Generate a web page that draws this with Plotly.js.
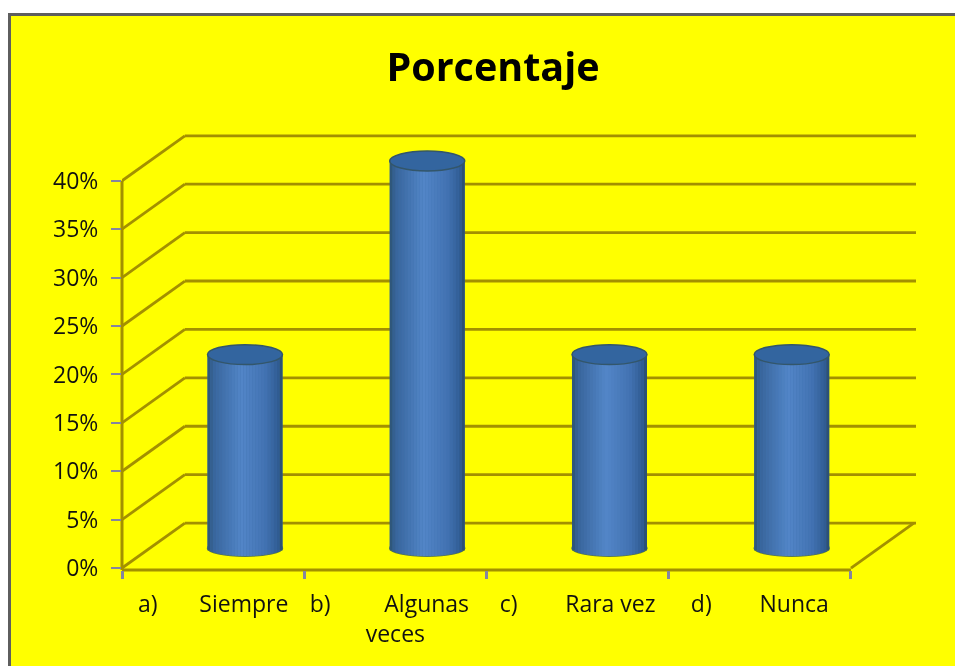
<!DOCTYPE html>
<html><head><meta charset="utf-8">
<script src="https://cdn.plot.ly/plotly-3.0.1.min.js"></script>
<style>
html,body{margin:0;padding:0;background:#fff;overflow:hidden;width:955px;height:666px}
#frame{position:absolute;left:8px;top:13px;width:947px;height:653px;box-sizing:border-box;background:#ffff00;border-left:3px solid #5e5e5e;border-top:3px solid #5e5e5e}
#chart{position:absolute;left:0;top:0;width:955px;height:666px;filter:blur(0.5px)}
</style></head><body>
<div id="frame"></div><div id="chart"></div>
<script>
const nb = '\u00A0';
const categories = ['a)'+nb.repeat(7)+'Siempre', 'b)'+nb.repeat(9)+'Algunas'+nb.repeat(2)+'<br>veces', 'c)'+nb.repeat(8)+'Rara vez', 'd)'+nb.repeat(8)+'Nunca'];
const values = [20, 40, 20, 20];
const yTicks = [0, 5, 10, 15, 20, 25, 30, 35, 40];
const titleText = 'Porcentaje';

// axis-space constants of the fake 3D box
const xMin = -0.5, xMax = 3.857, yMin = -0.2, yMax = 45.25;
const wallDx = 0.345, wallDy = 4.65;       // back wall shift
const depthDx = 0.175, depthDy = 2.05;     // cylinder position inside the box
const rx = 0.2058, ry = 1.03, ryBottom = 0.82; // cylinder cross-section
const gridColor = '#a39000';

const stops = [[-1,[44,82,112]],[-0.84,[56,100,155]],[-0.1,[82,134,200]],[0.55,[66,114,178]],[0.88,[48,92,146]],[1,[42,76,104]]];
function shade(t){
  for(let i=1;i<stops.length;i++){
    if(t<=stops[i][0]){
      const a=stops[i-1],b=stops[i],f=(t-a[0])/(b[0]-a[0]);
      return 'rgb('+a[1].map((c,j)=>Math.round(c+(b[1][j]-c)*f)).join(',')+')';
    }
  }
  return 'rgb(42,76,104)';
}

const traces = [{
  type:'bar', x:categories, y:values, base:values.map(()=>depthDy),
  width:values.map(()=>2*rx), offset:values.map(()=>depthDx-rx),
  marker:{color:'#3f72b0',line:{width:0}}, hoverinfo:'x+y', showlegend:false
}];
const nStrips = 25, step = 2*rx/nStrips;
for(let k=0;k<nStrips;k++){
  const t = -1+(k+0.5)*2/nStrips;
  const sag = ryBottom*Math.sqrt(1-t*t);
  traces.push({
    type:'bar', x:categories, y:values.map(v=>v+sag), base:values.map(()=>depthDy-sag),
    width:values.map(()=>step), offset:values.map(()=>depthDx-rx+k*step),
    marker:{color:shade(t),line:{width:0}}, hoverinfo:'skip', showlegend:false
  });
}

const shapes = [];
const ln = (x0,y0,x1,y1,w)=>({type:'line',xref:'x',yref:'y',x0,y0,x1,y1,layer:'below',line:{color:gridColor,width:w||2.8}});
yTicks.forEach(v=>{
  shapes.push(ln(xMin,v,xMin+wallDx,v+wallDy));
  shapes.push(ln(xMin+wallDx,v+wallDy,xMax,v+wallDy));
});
shapes.push(ln(3.5,0,3.5+wallDx,wallDy));
// floor edge and left edge use paper refs on the clipped side so their full width shows
shapes.push({type:'line',xref:'x',yref:'paper',x0:xMin,x1:3.5,y0:0,y1:0,layer:'below',line:{color:gridColor,width:3}});
shapes.push({type:'line',xref:'paper',yref:'y',x0:0,x1:0,y0:yMin,y1:40,layer:'below',line:{color:gridColor,width:3}});
values.forEach((v,i)=>{
  const cx=i+depthDx, cy=v+depthDy;
  shapes.push({type:'circle',xref:'x',yref:'y',x0:cx-rx,x1:cx+rx,y0:depthDy-ryBottom,y1:depthDy+ryBottom,layer:'below',
    fillcolor:'#3f72b0',line:{color:'#5a7a40',width:1.5}});
  shapes.push({type:'circle',xref:'x',yref:'y',x0:cx-rx,x1:cx+rx,y0:cy-ry,y1:cy+ry,layer:'above',
    fillcolor:'#33659f',line:{color:'#33566a',width:1.5}});
});

const axisFont = {family:'"Open Sans", sans-serif',size:23,color:'#111'};
Plotly.newPlot('chart',traces,{
  width:955,height:666,
  paper_bgcolor:'rgba(0,0,0,0)',plot_bgcolor:'rgba(0,0,0,0)',
  margin:{l:122,r:39,t:130,b:96,pad:0},
  barmode:'overlay',showlegend:false,
  title:{text:'<b>'+titleText+'</b>',x:493/955,xanchor:'center',y:1-67/666,yanchor:'middle',
    font:{family:'"Open Sans", sans-serif',size:39.5,color:'#000'}},
  xaxis:{type:'category',categoryorder:'array',categoryarray:categories,range:[xMin,xMax],
    tickson:'boundaries',ticks:'outside',ticklen:8,tickwidth:3,tickcolor:'#8585a0',
    showline:false,showgrid:false,zeroline:false,
    tickfont:axisFont,tickangle:0,ticklabelstandoff:18,automargin:false},
  yaxis:{range:[yMin,yMax],tickvals:yTicks,ticktext:yTicks.map(v=>v+'%'),
    ticks:'outside',ticklen:10,tickwidth:2,tickcolor:'#8585a0',
    showline:false,showgrid:false,zeroline:false,
    tickfont:axisFont,ticklabelstandoff:8,automargin:false},
  shapes
},{displayModeBar:false,staticPlot:true});
</script>
</body></html>
